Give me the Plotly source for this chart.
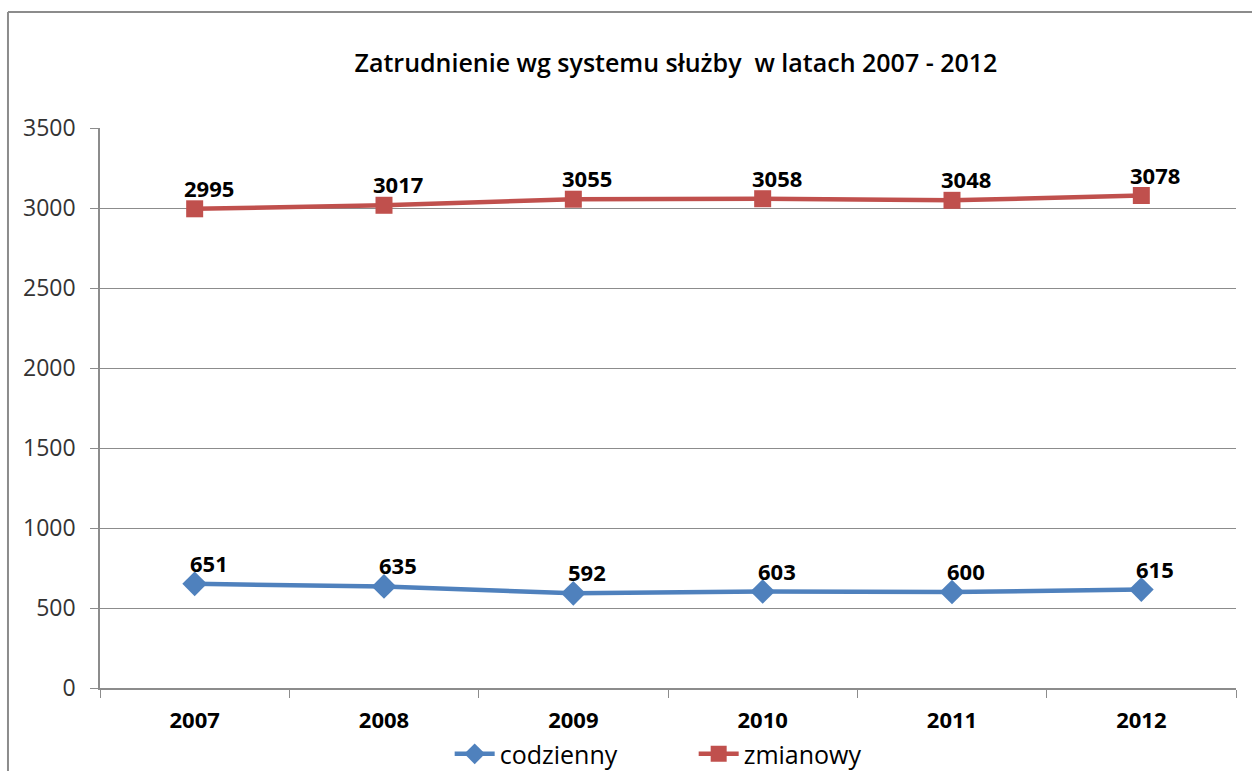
import plotly.graph_objects as go

years = ["2007", "2008", "2009", "2010", "2011", "2012"]
codzienny = [651, 635, 592, 603, 600, 615]
zmianowy = [2995, 3017, 3055, 3058, 3048, 3078]
y_ticks = [0, 500, 1000, 1500, 2000, 2500, 3000, 3500]

BLUE = "#4F81BD"
RED = "#C0504D"
GRID = "#8C8C8C"
FONT = "Open Sans"

fig = go.Figure()
fig.add_trace(go.Scatter(
    x=years, y=codzienny, name="codzienny", mode="lines+markers",
    line=dict(color=BLUE, width=4.5),
    marker=dict(symbol="diamond", size=19, color=BLUE),
))
fig.add_trace(go.Scatter(
    x=years, y=zmianowy, name="zmianowy", mode="lines+markers",
    line=dict(color=RED, width=4.5),
    marker=dict(symbol="square", size=17, color=RED),
))

for series in (codzienny, zmianowy):
    for i, v in enumerate(series):
        fig.add_annotation(
            x=i, y=v, xref="x", yref="y", text=str(v), showarrow=False,
            xshift=14, yshift=21, yanchor="middle", xanchor="center",
            font=dict(family=FONT, size=22, color="black", weight="bold"),
        )

# white strip at the far right edge of the picture
fig.add_shape(type="rect", xref="paper", yref="paper",
              x0=1.0025, x1=1.03, y0=-0.25, y1=1.3,
              line=dict(width=0), fillcolor="white", layer="above")
# outer chart frame (left and top edges; others fall outside the picture)
fig.add_shape(type="line", xref="paper", yref="paper",
              x0=-0.081, x1=-0.081, y0=-0.2, y1=1.207,
              line=dict(color="#8C8C8C", width=2), layer="above")
fig.add_shape(type="line", xref="paper", yref="paper",
              x0=-0.081, x1=1.05, y0=1.207, y1=1.207,
              line=dict(color="#8C8C8C", width=2), layer="above")

fig.update_layout(
    width=1252, height=771,
    margin=dict(l=100, r=16, t=128, b=83, autoexpand=False),
    paper_bgcolor="white", plot_bgcolor="white",
    title=dict(
        text="Zatrudnienie wg systemu służby  w latach 2007 - 2012",
        x=676 / 1252, xanchor="center", y=1 - 63 / 771, yanchor="middle",
        font=dict(family=FONT, size=25, color="black", weight=600),
    ),
    showlegend=True,
    legend=dict(
        orientation="h", x=0.5226, xanchor="center", y=-0.118, yanchor="middle",
        font=dict(family=FONT, size=25, color="black"),
        itemwidth=40, entrywidth=189, entrywidthmode="pixels",
        bgcolor="rgba(0,0,0,0)",
    ),
    xaxis=dict(
        type="category", range=[-0.5, 5.5], tickson="boundaries",
        showline=True, linecolor=GRID, linewidth=1.5,
        ticks="outside", ticklen=8, tickcolor=GRID,
        showgrid=False, zeroline=False,
        tickfont=dict(family=FONT, size=22, color="black", weight="bold"),
        ticklabelstandoff=12,
    ),
    yaxis=dict(
        range=[0, 3500], tickvals=y_ticks,
        showline=True, linecolor=GRID, linewidth=1.5,
        ticks="outside", ticklen=8, tickcolor=GRID,
        showgrid=True, gridcolor=GRID, gridwidth=1, zeroline=False,
        tickfont=dict(family=FONT, size=23, color="#333333"),
        ticklabelstandoff=10,
    ),
)

fig.write_html(
    "out.html",
    config={"displayModeBar": False},
    post_script="document.body.style.margin='0';document.body.style.overflow='hidden';",
)
